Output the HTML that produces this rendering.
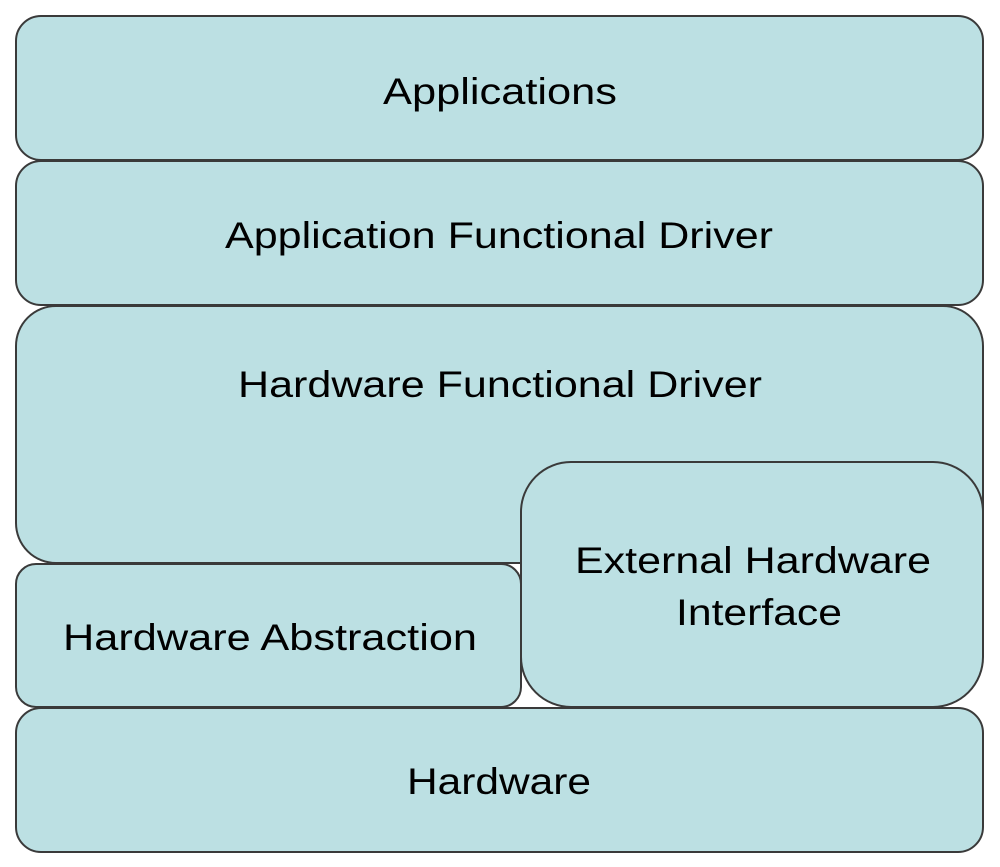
<!DOCTYPE html>
<html><head><style>
html,body{margin:0;padding:0;background:#fff;}
svg{display:block;}
text{font-family:"Liberation Sans",Arial,sans-serif;font-size:37px;fill:#000;text-anchor:middle;}
</style></head><body>
<svg width="1000" height="867" viewBox="0 0 1000 867">
<g fill="#bce0e3" stroke="#3a3a3a" stroke-width="2">
<rect x="16" y="16" width="967" height="144" rx="25" ry="25"/>
<rect x="16" y="161" width="967" height="144" rx="25" ry="25"/>
<rect x="16" y="306" width="967" height="257" rx="40" ry="40"/>
<rect x="16" y="564" width="505" height="143" rx="20" ry="20"/>
<rect x="521" y="462" width="462" height="245" rx="50" ry="50"/>
<rect x="16" y="708" width="967" height="144" rx="25" ry="25"/>
</g>
<text x="500" y="104" textLength="234" lengthAdjust="spacingAndGlyphs">Applications</text>
<text x="499" y="248" textLength="548" lengthAdjust="spacingAndGlyphs">Application Functional Driver</text>
<text x="500" y="397" textLength="524" lengthAdjust="spacingAndGlyphs">Hardware Functional Driver</text>
<text x="270" y="650" textLength="414" lengthAdjust="spacingAndGlyphs">Hardware Abstraction</text>
<text x="753" y="573" textLength="356" lengthAdjust="spacingAndGlyphs">External Hardware</text>
<text x="759" y="625" textLength="166" lengthAdjust="spacingAndGlyphs">Interface</text>
<text x="499" y="794" textLength="184" lengthAdjust="spacingAndGlyphs">Hardware</text>
</svg>
</body></html>
